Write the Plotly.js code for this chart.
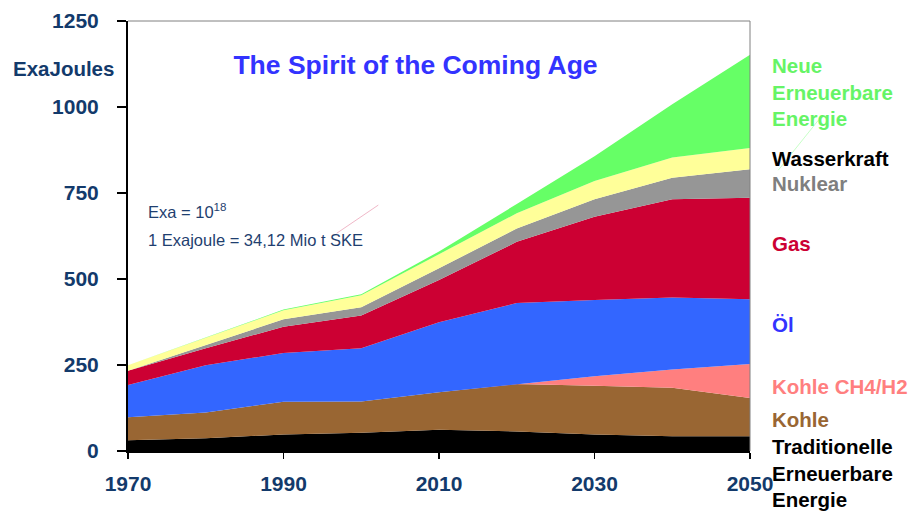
<!DOCTYPE html>
<html>
<head>
<meta charset="utf-8">
<script src="https://cdn.plot.ly/plotly-3.0.1.min.js"></script>
<style>html,body{margin:0;padding:0;background:#fff;}#chart{width:914px;height:512px;}</style>
</head>
<body>
<div id="chart"></div>
<script>
// Data (ExaJoules)
const years = [1970, 1980, 1990, 2000, 2010, 2020, 2030, 2040, 2050];
const traditionelle = [31, 37, 48, 53, 62, 57, 48, 43, 43];
const kohle = [67, 75, 95, 91, 109, 138, 142, 141, 111];
const kohleCH4 = [0, 0, 0, 0, 0, 0, 27, 53, 99];
const oel = [94, 137, 142, 155, 203, 235, 222, 209, 188];
const gas = [41, 50, 76, 95, 123, 178, 242, 286, 295];
const nuklear = [0, 10, 22, 24, 34, 39, 51, 62, 83];
const wasserkraft = [16, 21, 26, 35, 42, 44, 53, 59, 62];
const neueErneuerbare = [0, 0, 2, 3, 7, 27, 72, 155, 271];

const xTicks = [1970, 1990, 2010, 2030, 2050];
const yTicks = [0, 250, 500, 750, 1000, 1250];

const seriesNames = ["Traditionelle Erneuerbare Energie", "Kohle", "Kohle CH4/H2", "Öl", "Gas", "Nuklear", "Wasserkraft", "Neue Erneuerbare Energie"];
const seriesData = [traditionelle, kohle, kohleCH4, oel, gas, nuklear, wasserkraft, neueErneuerbare];
const fillColors = ["#000000", "#996633", "#ff7f7f", "#3366ff", "#cc0033", "#969696", "#ffff99", "#66ff66"];

const labelTexts = ["Neue<br>Erneuerbare<br>Energie", "Wasserkraft", "Nuklear", "Gas", "Öl", "Kohle CH4/H2", "Kohle", "Traditionelle<br>Erneuerbare<br>Energie"];
const labelColors = ["#66f466", "#000000", "#7f7f7f", "#cc0033", "#3333ff", "#ff7f7f", "#996633", "#000000"];
const labelY = [0.8348, 0.6803, 0.6223, 0.4831, 0.2935, 0.1503, 0.0731, -0.0506];

const FONT = "Liberation Sans, Arial, sans-serif";
const NAVY = "#133a6b";

const traces = seriesData.map((d, i) => ({
  type: "scatter",
  x: years,
  y: d,
  name: seriesNames[i],
  stackgroup: "one",
  mode: "lines",
  line: {width: 0, color: fillColors[i]},
  fillcolor: fillColors[i],
  hoverinfo: "skip",
  showlegend: false
}));

const annotations = labelTexts.map((t, i) => ({
  xref: "paper", yref: "paper",
  x: 1.0322, y: labelY[i],
  xanchor: "left", yanchor: "middle", align: "left",
  text: t, showarrow: false,
  font: {family: FONT, size: 20.5, weight: "bold", color: labelColors[i]}
}));

annotations.push({
  xref: "paper", yref: "paper", x: -0.1045, y: 0.889,
  xanchor: "center", yanchor: "middle", showarrow: false,
  text: "ExaJoules",
  font: {family: FONT, size: 20.5, weight: "bold", color: NAVY}
});
annotations.push({
  xref: "paper", yref: "paper", x: 0.0289, y: 0.558,
  xanchor: "left", yanchor: "middle", showarrow: false,
  text: "Exa = 10<sup>18</sup>",
  font: {family: FONT, size: 16.5, color: "#1f3f70"}
});
annotations.push({
  xref: "paper", yref: "paper", x: 0.0289, y: 0.4907,
  xanchor: "left", yanchor: "middle", showarrow: false,
  text: "1 Exajoule = 34,12 Mio t SKE",
  font: {family: FONT, size: 16.5, color: "#1f3f70"}
});

const layout = {
  width: 914, height: 512,
  margin: {l: 128, r: 164, t: 20.5, b: 60.5, pad: 0},
  paper_bgcolor: "#ffffff",
  plot_bgcolor: "#ffffff",
  title: {
    text: "The Spirit of the Coming Age",
    xref: "container", yref: "container",
    x: 0.4546, y: 0.873, xanchor: "center", yanchor: "middle",
    font: {family: FONT, size: 26.5, weight: "bold", color: "#3333ff"}
  },
  xaxis: {
    range: [1970, 2050],
    tickvals: xTicks,
    ticktext: xTicks.map(String),
    showline: true, linecolor: "#000000", linewidth: 2,
    ticks: "outside", ticklen: 6, tickwidth: 1.5, tickcolor: "#000000",
    ticklabelstandoff: 7,
    showgrid: false, zeroline: false,
    tickfont: {family: FONT, size: 21, weight: "bold", color: NAVY}
  },
  yaxis: {
    range: [0, 1250],
    tickvals: yTicks,
    ticktext: yTicks.map(String),
    showline: true, linecolor: "#000000", linewidth: 2,
    ticks: "outside", ticklen: 9, tickwidth: 1.5, tickcolor: "#000000",
    ticklabelstandoff: 14,
    showgrid: false, zeroline: false,
    tickfont: {family: FONT, size: 21, weight: "bold", color: NAVY}
  },
  shapes: [
    {type: "line", xref: "paper", yref: "paper", x0: 0, x1: 1, y0: 1, y1: 1, line: {color: "#808080", width: 1}},
    {type: "line", xref: "paper", yref: "paper", x0: 1, x1: 1, y0: 0, y1: 1, line: {color: "#808080", width: 1}},
    {type: "line", xref: "paper", yref: "paper", x0: 0.3355, y0: 0.5063, x1: 0.4024, y1: 0.5719, line: {color: "#f0b8c8", width: 1}},
    {type: "line", xref: "paper", yref: "paper", x0: 1.0455, y0: 0.6531, x1: 1.1098, y1: 0.7691, line: {color: "#c8ffc8", width: 1}}
  ],
  annotations: annotations,
  showlegend: false
};

Plotly.newPlot("chart", traces, layout, {staticPlot: true, displayModeBar: false});
</script>
</body>
</html>
